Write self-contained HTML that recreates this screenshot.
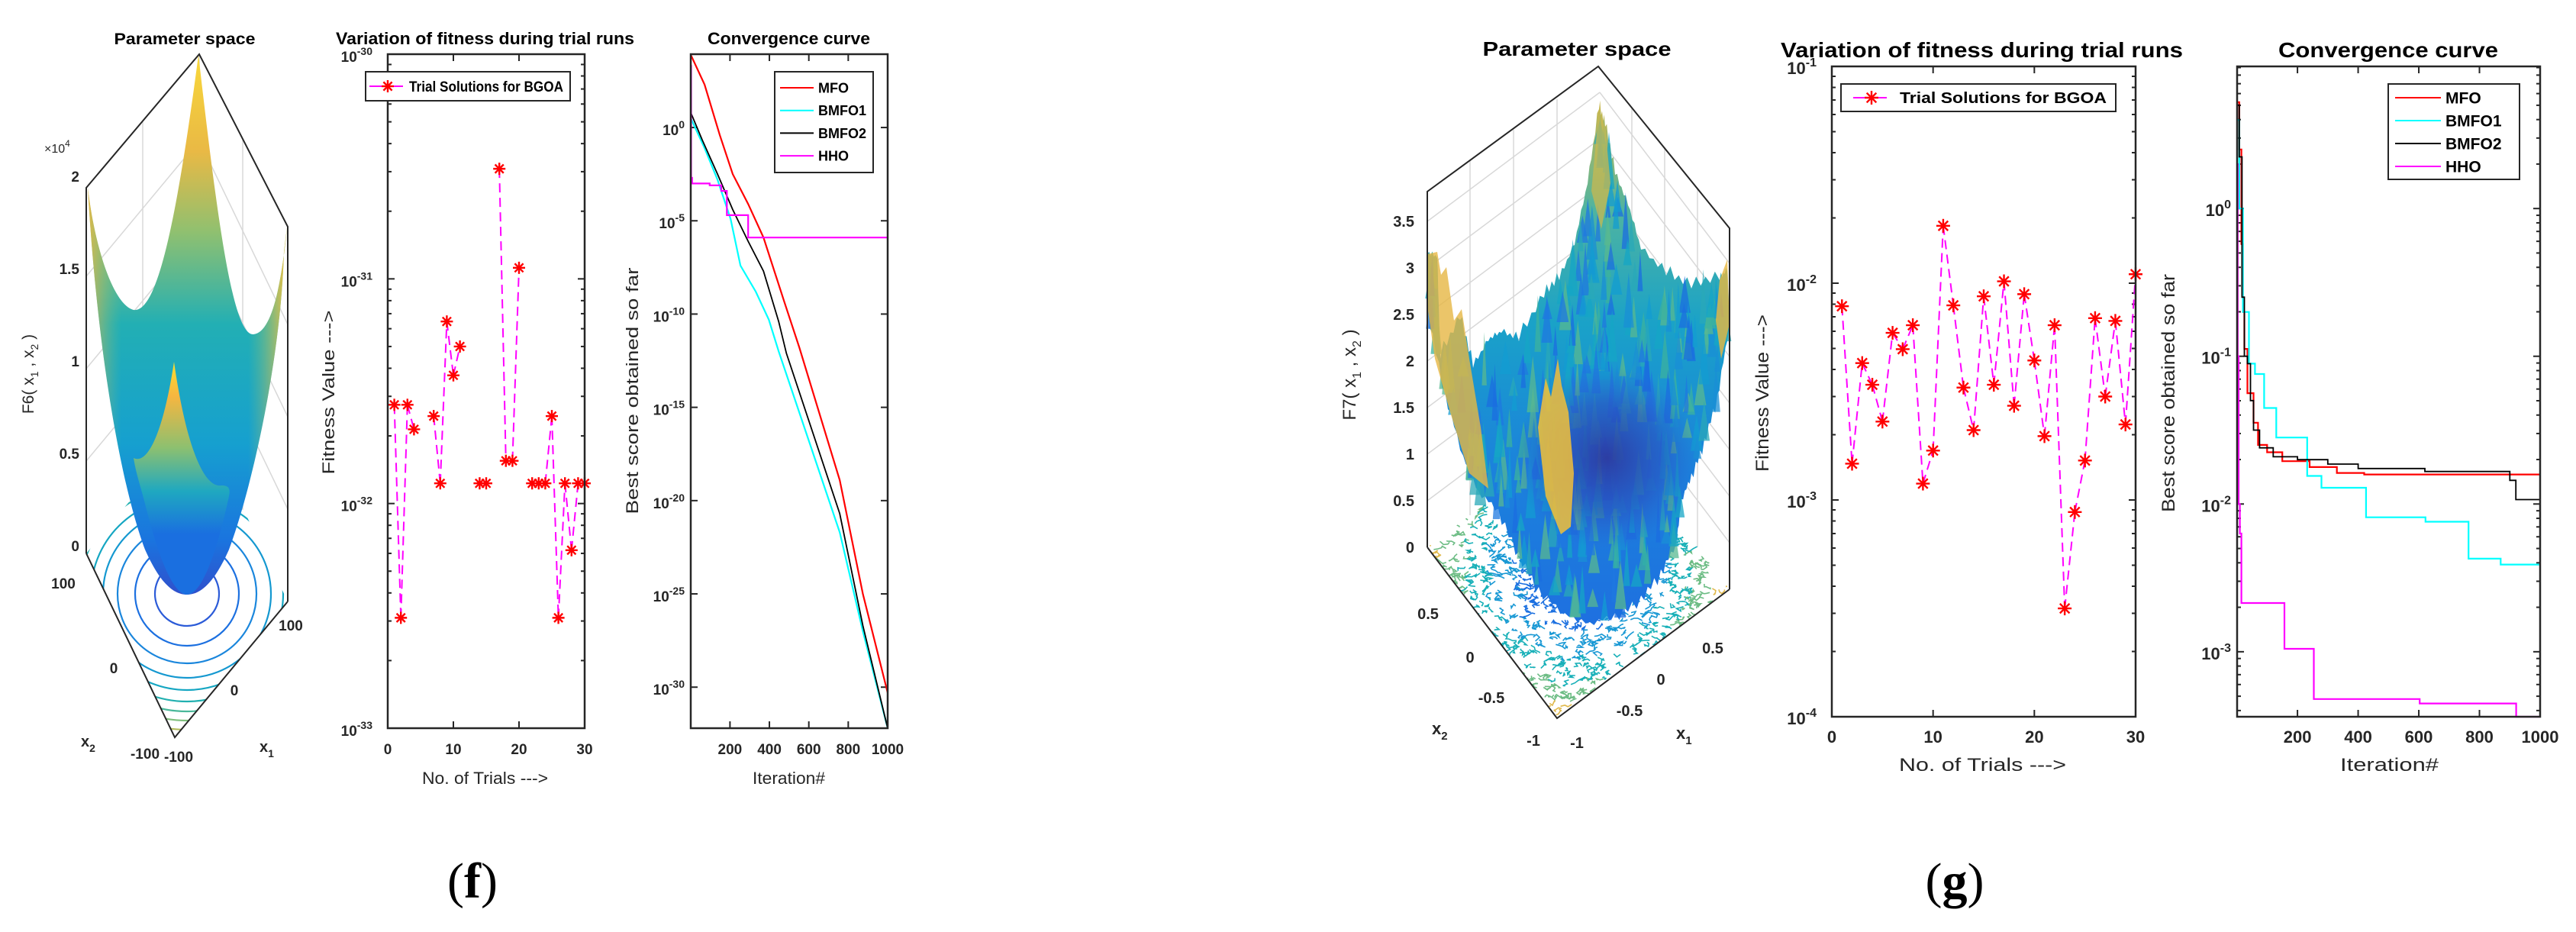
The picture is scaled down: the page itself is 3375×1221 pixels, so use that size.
<!DOCTYPE html>
<html><head><meta charset="utf-8"><title>Parameter space, fitness variation and convergence curves for F6 and F7</title>
<style>
html,body{margin:0;padding:0;background:#fff;}
svg{display:block;font-family:"Liberation Sans",Arial,sans-serif;}
</style></head>
<body>
<svg id="fig" xmlns="http://www.w3.org/2000/svg" width="3375" height="1221" viewBox="0 0 3375 1221">
<defs>
  <linearGradient id="gF6" x1="0" y1="71" x2="0" y2="779" gradientUnits="userSpaceOnUse">
    <stop offset="0" stop-color="#f9d83a"/><stop offset="0.18" stop-color="#e9b945"/>
    <stop offset="0.33" stop-color="#8fc070"/><stop offset="0.5" stop-color="#22afb4"/>
    <stop offset="0.72" stop-color="#16a0cf"/><stop offset="0.9" stop-color="#1a74df"/>
    <stop offset="1" stop-color="#3050cc"/>
  </linearGradient>
  <linearGradient id="gF6side" x1="112" y1="0" x2="372" y2="0" gradientUnits="userSpaceOnUse">
    <stop offset="0" stop-color="#f2b640" stop-opacity="0.85"/><stop offset="0.18" stop-color="#80c07a" stop-opacity="0"/>
    <stop offset="0.82" stop-color="#80c07a" stop-opacity="0"/><stop offset="1" stop-color="#f2c040" stop-opacity="0.85"/>
  </linearGradient>
  <linearGradient id="gF6lobe" x1="0" y1="474" x2="0" y2="700" gradientUnits="userSpaceOnUse">
    <stop offset="0" stop-color="#f9e030"/><stop offset="0.2" stop-color="#f6b640"/>
    <stop offset="0.5" stop-color="#8cc070"/><stop offset="0.75" stop-color="#1fa8c0"/>
    <stop offset="1" stop-color="#1a6fe0"/>
  </linearGradient>
  <linearGradient id="gF7" x1="0" y1="140" x2="0" y2="815" gradientUnits="userSpaceOnUse">
    <stop offset="0" stop-color="#c8b850"/><stop offset="0.2" stop-color="#4fb4a0"/>
    <stop offset="0.42" stop-color="#1aa2c8"/><stop offset="0.7" stop-color="#1b82dc"/>
    <stop offset="1" stop-color="#1e70e0"/>
  </linearGradient>
  <radialGradient id="gF7dark" cx="2105" cy="600" r="120" gradientUnits="userSpaceOnUse">
    <stop offset="0" stop-color="#2d3aa0" stop-opacity="0.95"/><stop offset="0.6" stop-color="#2a4fc0" stop-opacity="0.6"/>
    <stop offset="1" stop-color="#2a60d0" stop-opacity="0"/>
  </radialGradient>
  <clipPath id="clipFloorF"><polygon points="113,725 229,966 377,788 261,547"/></clipPath>
  <clipPath id="clipFloorG"><polygon points="1870,717 2040,941 2266,772 2096,548"/></clipPath>
</defs>

<!-- ===== Panel (f) 3D parameter space ===== -->
<g>
  <text x="242" y="58" font-size="21" font-weight="bold" text-anchor="middle" textLength="185" lengthAdjust="spacingAndGlyphs">Parameter space</text>
  <g stroke="#d8d8d8" stroke-width="1.5">
    <line x1="113" y1="604" x2="261" y2="426"/><line x1="113" y1="483" x2="261" y2="305"/><line x1="113" y1="362" x2="261" y2="184"/>
    <line x1="261" y1="426" x2="377" y2="667"/><line x1="261" y1="305" x2="377" y2="546"/><line x1="261" y1="184" x2="377" y2="425"/>
    <line x1="187" y1="160" x2="187" y2="636"/><line x1="318" y1="183" x2="318" y2="668"/><line x1="261" y1="71" x2="261" y2="547"/>
  </g>
  <g clip-path="url(#clipFloorF)" fill="none" stroke-width="2.2">
    <circle cx="245" cy="778" r="42" stroke="#2b5bd8"/><circle cx="245" cy="778" r="68" stroke="#1c70e0"/>
    <circle cx="245" cy="778" r="91" stroke="#1a86dc"/><circle cx="245" cy="778" r="110" stroke="#1498d0"/>
    <circle cx="245" cy="778" r="126" stroke="#15a6c2"/><circle cx="245" cy="778" r="141" stroke="#22b0b0"/>
    <circle cx="245" cy="778" r="154" stroke="#4ab89a"/><circle cx="245" cy="778" r="166" stroke="#7fbf7c"/>
    <circle cx="245" cy="778" r="178" stroke="#b4bc5c"/><circle cx="245" cy="778" r="189" stroke="#e2b84a"/>
    <circle cx="245" cy="778" r="199" stroke="#f5c83a"/><circle cx="245" cy="778" r="209" stroke="#f8e030"/>
  </g>
  <path d="M115,246 C125,330 150,400 175,406 C205,410 230,300 260,72 C285,290 305,440 332,438 C355,436 368,380 376,298 L372,330 C368,470 330,640 300,720 C280,765 262,779 245,779 C228,779 210,765 190,720 C160,640 128,470 115,246 Z" fill="url(#gF6)"/>
  <path d="M115,246 C125,330 150,400 175,406 C205,410 230,300 260,72 C285,290 305,440 332,438 C355,436 368,380 376,298 L372,330 C368,470 330,640 300,720 C280,765 262,779 245,779 C228,779 210,765 190,720 C160,640 128,470 115,246 Z" fill="url(#gF6side)"/>
  <path d="M175,600 C195,610 215,560 228,474 C240,560 262,640 290,636 C300,636 302,640 300,650 C285,720 265,779 245,779 C225,779 205,720 190,660 C185,640 178,620 175,600 Z" fill="url(#gF6lobe)"/>
  <g stroke="#262626" stroke-width="2" fill="none">
    <polyline points="113,725 113,246 261,71 377,297 377,788"/>
    <polyline points="113,725 229,966 377,788"/>
  </g>
  <g font-size="19" font-weight="bold" fill="#262626" text-anchor="end">
    <text x="104" y="722">0</text><text x="104" y="601">0.5</text><text x="104" y="480">1</text><text x="104" y="359">1.5</text><text x="104" y="238">2</text>
  </g>
  <text x="58" y="200" font-size="16" fill="#262626">×10<tspan font-size="12" dy="-8">4</tspan></text>
  <text transform="translate(44,490) rotate(-90)" font-size="21" fill="#262626" text-anchor="middle">F6( x<tspan font-size="14" dy="6">1</tspan><tspan dy="-6"> , x</tspan><tspan font-size="14" dy="6">2</tspan><tspan dy="-6"> )</tspan></text>
  <g font-size="19" font-weight="bold" fill="#262626" text-anchor="middle">
    <text x="83" y="771">100</text><text x="149" y="882">0</text><text x="190" y="994">-100</text><text x="234" y="998">-100</text>
    <text x="381" y="826">100</text><text x="307" y="911">0</text>
  </g>
  <text x="106" y="978" font-size="20" font-weight="bold" fill="#262626">x<tspan font-size="14" dy="7">2</tspan></text>
  <text x="340" y="985" font-size="20" font-weight="bold" fill="#262626">x<tspan font-size="14" dy="7">1</tspan></text>
</g>

<!-- ===== Panel (g) 3D parameter space ===== -->
<g>
  <text x="2066" y="73" font-size="26" font-weight="bold" text-anchor="middle" textLength="247" lengthAdjust="spacingAndGlyphs">Parameter space</text>
  <g id="g3dgrid" stroke="#d8d8d8" stroke-width="1.5"></g>
  <g id="g3dfloor" clip-path="url(#clipFloorG)"></g>
  <g id="g3dsurf"></g>
  <g stroke="#262626" stroke-width="2" fill="none">
    <polyline points="1870,717 1870,251 2094,87 2266,299 2266,772"/>
    <polyline points="1870,717 2040,941 2266,772"/>
  </g>
  <g font-size="20" font-weight="bold" fill="#262626" text-anchor="end">
    <text x="1853" y="724">0</text><text x="1853" y="663">0.5</text><text x="1853" y="602">1</text><text x="1853" y="541">1.5</text>
    <text x="1853" y="480">2</text><text x="1853" y="419">2.5</text><text x="1853" y="358">3</text><text x="1853" y="297">3.5</text>
  </g>
  <text transform="translate(1776,491) rotate(-90)" font-size="24" fill="#262626" text-anchor="middle">F7( x<tspan font-size="16" dy="7">1</tspan><tspan dy="-7"> , x</tspan><tspan font-size="16" dy="7">2</tspan><tspan dy="-7"> )</tspan></text>
  <g font-size="20" font-weight="bold" fill="#262626" text-anchor="middle">
    <text x="1871" y="811">0.5</text><text x="1926" y="868">0</text><text x="1954" y="921">-0.5</text><text x="2009" y="977">-1</text>
    <text x="2066" y="980">-1</text><text x="2135" y="938">-0.5</text><text x="2176" y="897">0</text><text x="2244" y="856">0.5</text>
  </g>
  <text x="1876" y="962" font-size="22" font-weight="bold" fill="#262626">x<tspan font-size="15" dy="7">2</tspan></text>
  <text x="2196" y="968" font-size="22" font-weight="bold" fill="#262626">x<tspan font-size="15" dy="7">1</tspan></text>
</g>

<g id="charts"></g>

<text x="619" y="1176" font-family="'Liberation Serif',serif" font-size="66" text-anchor="middle">(<tspan font-weight="bold">f</tspan>)</text>
<text x="2561" y="1176" font-family="'Liberation Serif',serif" font-size="66" text-anchor="middle">(<tspan font-weight="bold">g</tspan>)</text>
</svg>

<script>
// ---------------- DATA ----------------
// Panel (f): fitness per trial (null = not drawn)
const trialsF = [1,2,3,4,5,6,7,8,9,10,11,12,13,14,15,16,17,18,19,20,21,22,23,24,25,26,27,28,29,30];
const fitnessF = [2.75e-32,3.1e-33,2.75e-32,2.14e-32,null,null,2.45e-32,1.23e-32,6.46e-32,3.72e-32,5.0e-32,null,null,1.23e-32,1.23e-32,null,3.09e-31,1.55e-32,1.55e-32,1.12e-31,null,1.23e-32,1.23e-32,1.23e-32,2.45e-32,3.1e-33,1.23e-32,6.2e-33,1.23e-32,1.23e-32];
const fitTicksF = [-30,-31,-32,-33];
const trialTickLabels = [0,10,20,30];
// Panel (f): convergence (log10 of best score)
const mfoItF = [1,71,148,214,292,370,474,552,757,874,1000];
const mfoLogF = [3.9,2.3,-0.4,-2.5,-4.1,-5.9,-9.3,-11.8,-18.9,-25,-30.3];
const bmfo1ItF = [1,71,137,203,253,331,397,447,757,874,1000];
const bmfo1LogF = [0.5,-1.1,-2.8,-4.9,-7.4,-8.8,-10.3,-12,-21.7,-27,-32.4];
const bmfo2ItF = [1,59,137,214,292,370,447,486,757,874,1000];
const bmfo2LogF = [0.8,-0.66,-2.5,-4.4,-6.1,-7.7,-10.4,-12.1,-20.7,-26.7,-32.2];
const hhoItF = [1,3,8,97,156,184,292];
const hhoLogF = [3.3,-2.7,-3.0,-3.1,-3.4,-4.7,-5.9];
const convTicksF = [0,-5,-10,-15,-20,-25,-30];
const iterTickLabels = [200,400,600,800,1000];
// Panel (g): fitness per trial
const trialsG = [1,2,3,4,5,6,7,8,9,10,11,12,13,14,15,16,17,18,19,20,21,22,23,24,25,26,27,28,29,30];
const fitnessG = [0.00783,0.00147,0.00428,0.0034,0.0023,0.0059,0.00496,0.0064,0.00119,0.00169,0.0184,0.0079,0.0033,0.0021,0.0087,0.0034,0.0102,0.00272,0.0089,0.0044,0.00197,0.0064,0.000316,0.00088,0.00152,0.0069,0.0030,0.0067,0.00223,0.0110];
const fitTicksG = [-1,-2,-3,-4];
// Panel (g): convergence stairs (log10 of best score)
const mfoItG = [1,8,15,20,25,35,55,70,100,150,240,330,420];
const mfoLogG = [0.72,0.4,-0.24,-0.7,-0.95,-1.25,-1.45,-1.6,-1.65,-1.71,-1.75,-1.79,-1.80];
const bmfo1ItG = [1,8,20,40,60,90,130,232,279,426,622,764,870];
const bmfo1LogG = [0.6,0,-0.7,-1.05,-1.12,-1.35,-1.55,-1.81,-1.89,-2.09,-2.12,-2.37,-2.41];
const bmfo2ItG = [1,8,17,25,35,45,55,75,120,200,300,400,620,900,920];
const bmfo2LogG = [0.7,0.35,-0.6,-1.0,-1.05,-1.3,-1.5,-1.62,-1.68,-1.7,-1.73,-1.76,-1.78,-1.84,-1.97];
const hhoItG = [1,3,6,10,15,157,254,603,921];
const hhoLogG = [0.3,-1.0,-2.0,-2.2,-2.67,-2.98,-3.32,-3.35,-3.48];
const convTicksG = [0,-1,-2,-3];
const legendNames = ['MFO','BMFO1','BMFO2','HHO'];

// ---------------- HELPERS ----------------
const NS = 'http://www.w3.org/2000/svg';
const root = document.getElementById('charts');
function mk(tag, parent, attrs) {
  const e = document.createElementNS(NS, tag);
  for (const k in attrs) e.setAttribute(k, attrs[k]);
  parent.appendChild(e);
  return e;
}
function pow10Label(parent, xRight, y, exp, size, name) {
  const t = mk('text', parent, {x: xRight, y: y, 'font-size': size, 'font-weight': 'bold', fill: '#262626', 'text-anchor': 'end'});
  
  
  const a = mk('tspan', t, {});
  a.textContent = '10';
  const b = mk('tspan', t, {'font-size': Math.round(size * 0.72), dy: -Math.round(size * 0.45)});
  b.textContent = String(exp);
  return t;
}
function star(parent, x, y, r, name) {
  const g = mk('g', parent, {stroke: '#ff0000', 'stroke-width': 2.4});
  
  
  mk('line', g, {x1: x - r, y1: y, x2: x + r, y2: y});
  mk('line', g, {x1: x, y1: y - r, x2: x, y2: y + r});
  mk('line', g, {x1: x - r * 0.7, y1: y - r * 0.7, x2: x + r * 0.7, y2: y + r * 0.7});
  mk('line', g, {x1: x - r * 0.7, y1: y + r * 0.7, x2: x + r * 0.7, y2: y - r * 0.7});
}

// Fitness panel
function fitnessPanel(p) {
  const g = mk('g', root, {});
  
  
  const xS = t => p.x0 + t / 30 * (p.x1 - p.x0);
  const yS = v => p.y0 + (p.dTop - Math.log10(v)) / (p.dTop - p.dBot) * (p.y1 - p.y0);
  const title = mk('text', g, {x: (p.tx0 + p.tx1) / 2, y: p.ty, 'font-size': p.tfs, 'font-weight': 'bold', 'text-anchor': 'middle', textLength: p.tx1 - p.tx0, lengthAdjust: 'spacingAndGlyphs'});
  
  
  title.textContent = 'Variation of fitness during trial runs';
  const tk = mk('g', g, {stroke: '#262626', 'stroke-width': 2});
  
  
  for (let d = p.dBot; d < p.dTop; d++) {
    for (let m = 1; m < 10; m++) {
      const y = yS(m * Math.pow(10, d));
      const L = m === 1 ? 9 : 5;
      mk('line', tk, {x1: p.x0, y1: y, x2: p.x0 + L, y2: y});
      mk('line', tk, {x1: p.x1, y1: y, x2: p.x1 - L, y2: y});
    }
  }
  p.yTicks.forEach(d => {
    pow10Label(g, p.x0 - 20, yS(Math.pow(10, d)) + 10, d, p.fs, p.id + '-fitness-y-tick-label');
  });
  trialTickLabels.forEach(t => {
    mk('line', tk, {x1: xS(t), y1: p.y1, x2: xS(t), y2: p.y1 - 9});
    mk('line', tk, {x1: xS(t), y1: p.y0, x2: xS(t), y2: p.y0 + 9});
    const tl = mk('text', g, {x: xS(t), y: p.xly, 'font-size': p.fs, 'font-weight': 'bold', fill: '#262626', 'text-anchor': 'middle'});
    
    
    tl.textContent = t;
  });
  const ser = mk('g', g, {});
  
  
  for (let i = 0; i < p.vals.length - 1; i++) {
    const a = p.vals[i], b = p.vals[i + 1];
    if (a == null || b == null) continue;
    const seg = mk('line', ser, {x1: xS(p.trials[i]), y1: yS(a), x2: xS(p.trials[i + 1]), y2: yS(b), stroke: '#ff00ff', 'stroke-width': 2, 'stroke-dasharray': '12,7'});
    
    
  }
  p.vals.forEach((v, i) => {
    if (v == null) return;
    star(ser, xS(p.trials[i]), yS(v), p.sr, 'trial-point');
  });
  const box = mk('rect', g, {x: p.x0, y: p.y0, width: p.x1 - p.x0, height: p.y1 - p.y0, fill: 'none', stroke: '#262626', 'stroke-width': 2.5});
  
  
  const lg = mk('g', g, {});
  
  
  mk('rect', lg, {x: p.lx0, y: p.ly0, width: p.lx1 - p.lx0, height: p.ly1 - p.ly0, fill: '#fff', stroke: '#262626', 'stroke-width': 2});
  const cy = (p.ly0 + p.ly1) / 2;
  mk('line', lg, {x1: p.lmx - 24, y1: cy, x2: p.lmx + 20, y2: cy, stroke: '#ff00ff', 'stroke-width': 2});
  star(lg, p.lmx, cy, p.sr, 'legend-marker');
  const lt = mk('text', lg, {x: p.ltx0, y: cy + 7, 'font-size': p.lfs, 'font-weight': 'bold', textLength: p.ltx1 - p.ltx0, lengthAdjust: 'spacingAndGlyphs'});
  
  
  lt.textContent = 'Trial Solutions for BGOA';
  const yl = mk('text', g, {transform: 'translate(' + p.ylx + ',' + p.ylcy + ') rotate(-90)', 'font-size': p.afs, fill: '#262626', 'text-anchor': 'middle', textLength: p.ylLen, lengthAdjust: 'spacingAndGlyphs'});
  
  
  yl.textContent = 'Fitness Value --->';
  const xl = mk('text', g, {x: (p.xlx0 + p.xlx1) / 2, y: p.xlty, 'font-size': p.afs, fill: '#262626', 'text-anchor': 'middle', textLength: p.xlx1 - p.xlx0, lengthAdjust: 'spacingAndGlyphs'});
  
  
  xl.textContent = 'No. of Trials --->';
}

// Convergence panel
function convPanel(p) {
  const g = mk('g', root, {});
  
  
  const xS = it => p.x0 + (it - 1) / 999 * (p.x1 - p.x0);
  const yS = l => p.y0 + (p.dTop - l) / (p.dTop - p.dBot) * (p.y1 - p.y0);
  const title = mk('text', g, {x: (p.tx0 + p.tx1) / 2, y: p.ty, 'font-size': p.tfs, 'font-weight': 'bold', 'text-anchor': 'middle', textLength: p.tx1 - p.tx0, lengthAdjust: 'spacingAndGlyphs'});
  
  
  title.textContent = 'Convergence curve';
  const tk = mk('g', g, {stroke: '#262626', 'stroke-width': 2});
  
  
  if (p.minor) {
    for (let d = Math.floor(p.dBot); d < p.dTop; d++) {
      for (let m = 2; m < 10; m++) {
        const l = d + Math.log10(m);
        if (l < p.dBot || l > p.dTop) continue;
        mk('line', tk, {x1: p.x0, y1: yS(l), x2: p.x0 + 5, y2: yS(l)});
        mk('line', tk, {x1: p.x1, y1: yS(l), x2: p.x1 - 5, y2: yS(l)});
      }
    }
  }
  p.yTicks.forEach(d => {
    mk('line', tk, {x1: p.x0, y1: yS(d), x2: p.x0 + 9, y2: yS(d)});
    mk('line', tk, {x1: p.x1, y1: yS(d), x2: p.x1 - 9, y2: yS(d)});
    pow10Label(g, p.x0 - 8, yS(d) + 10, d, p.fs, p.id + '-convergence-y-tick-label');
  });
  iterTickLabels.forEach(it => {
    mk('line', tk, {x1: xS(it), y1: p.y1, x2: xS(it), y2: p.y1 - 9});
    mk('line', tk, {x1: xS(it), y1: p.y0, x2: xS(it), y2: p.y0 + 9});
    const tl = mk('text', g, {x: xS(it), y: p.xly, 'font-size': p.fs, 'font-weight': 'bold', fill: '#262626', 'text-anchor': 'middle'});
    
    
    tl.textContent = it;
  });
  const colors = ['#ff0000', '#00ffff', '#000000', '#ff00ff'];
  const sg = mk('g', g, {fill: 'none', 'stroke-width': 2});
  
  
  p.series.forEach((s, k) => {
    let pts = [];
    if (s.stairs) {
      for (let i = 0; i < s.it.length; i++) {
        if (i > 0) pts.push([xS(s.it[i]), yS(s.v[i - 1])]);
        pts.push([xS(s.it[i]), yS(s.v[i])]);
      }
      pts.push([xS(1000), yS(s.v[s.v.length - 1])]);
    } else {
      for (let i = 0; i < s.it.length; i++) pts.push([xS(s.it[i]), yS(s.v[i])]);
    }
    pts = pts.map(q => [q[0], Math.min(Math.max(q[1], p.y0), p.y1)]);
    const pl = mk('polyline', sg, {points: pts.map(q => q[0].toFixed(1) + ',' + q[1].toFixed(1)).join(' '), stroke: colors[k], 'stroke-width': k === 2 ? 1.8 : 2.2});
    
    
  });
  const box = mk('rect', g, {x: p.x0, y: p.y0, width: p.x1 - p.x0, height: p.y1 - p.y0, fill: 'none', stroke: '#262626', 'stroke-width': 2.5});
  
  
  const lg = mk('g', g, {});
  
  
  mk('rect', lg, {x: p.lx0, y: p.ly0, width: p.lx1 - p.lx0, height: p.ly1 - p.ly0, fill: '#fff', stroke: '#262626', 'stroke-width': 2});
  legendNames.forEach((n, k) => {
    const y = p.ly0 + p.lpad + k * p.lstep;
    mk('line', lg, {x1: p.llx0, y1: y, x2: p.llx1, y2: y, stroke: colors[k], 'stroke-width': 2});
    const t = mk('text', lg, {x: p.llx1 + 6, y: y + p.lfs * 0.36, 'font-size': p.lfs, 'font-weight': 'bold'});
    
    
    t.textContent = n;
  });
  const yl = mk('text', g, {transform: 'translate(' + p.ylx + ',' + p.ylcy + ') rotate(-90)', 'font-size': p.afs, fill: '#262626', 'text-anchor': 'middle', textLength: p.ylLen, lengthAdjust: 'spacingAndGlyphs'});
  
  
  yl.textContent = 'Best score obtained so far';
  const xl = mk('text', g, {x: (p.xlx0 + p.xlx1) / 2, y: p.xlty, 'font-size': p.afs, fill: '#262626', 'text-anchor': 'middle', textLength: p.xlx1 - p.xlx0, lengthAdjust: 'spacingAndGlyphs'});
  
  
  xl.textContent = 'Iteration#';
}

fitnessPanel({id: 'f6', x0: 508, x1: 766, y0: 71, y1: 954, dTop: -30, dBot: -33, trials: trialsF, vals: fitnessF, yTicks: fitTicksF,
  tx0: 440, tx1: 831, ty: 58, tfs: 22, fs: 19, xly: 988, sr: 8,
  lx0: 479, ly0: 94, lx1: 747, ly1: 132, lmx: 508, ltx0: 536, ltx1: 738, lfs: 19,
  ylx: 438, ylcy: 514, ylLen: 215, afs: 22, xlx0: 553, xlx1: 718, xlty: 1027});
convPanel({id: 'f6', x0: 905, x1: 1163, y0: 71, y1: 954, dTop: 3.93, dBot: -32.2, minor: false, yTicks: convTicksF,
  series: [{it: mfoItF, v: mfoLogF}, {it: bmfo1ItF, v: bmfo1LogF}, {it: bmfo2ItF, v: bmfo2LogF}, {it: hhoItF, v: hhoLogF, stairs: true}],
  tx0: 927, tx1: 1140, ty: 58, tfs: 22, fs: 19, xly: 988,
  lx0: 1015, ly0: 94, lx1: 1144, ly1: 226, lpad: 21, lstep: 29.7, llx0: 1022, llx1: 1066, lfs: 18,
  ylx: 836, ylcy: 512, ylLen: 323, afs: 22, xlx0: 986, xlx1: 1081, xlty: 1027});
fitnessPanel({id: 'f7', x0: 2400, x1: 2798, y0: 87, y1: 939, dTop: -1, dBot: -4, trials: trialsG, vals: fitnessG, yTicks: fitTicksG,
  tx0: 2333, tx1: 2860, ty: 75, tfs: 28, fs: 22, xly: 973, sr: 9,
  lx0: 2412, ly0: 110, lx1: 2772, ly1: 146, lmx: 2452, ltx0: 2489, ltx1: 2760, lfs: 20,
  ylx: 2317, ylcy: 515, ylLen: 206, afs: 24, xlx0: 2488, xlx1: 2707, xlty: 1010});
convPanel({id: 'f7', x0: 2931, x1: 3328, y0: 87, y1: 939, dTop: 0.962, dBot: -3.44, minor: true, yTicks: convTicksG,
  series: [{it: mfoItG, v: mfoLogG, stairs: true}, {it: bmfo1ItG, v: bmfo1LogG, stairs: true}, {it: bmfo2ItG, v: bmfo2LogG, stairs: true}, {it: hhoItG, v: hhoLogG, stairs: true}],
  tx0: 2985, tx1: 3273, ty: 75, tfs: 28, fs: 22, xly: 973,
  lx0: 3129, ly0: 110, lx1: 3301, ly1: 235, lpad: 18, lstep: 30, llx0: 3138, llx1: 3198, lfs: 21,
  ylx: 2849, ylcy: 515, ylLen: 312, afs: 24, xlx0: 3066, xlx1: 3195, xlty: 1010});

// ---------------- Decorative 3D F7 surface (static geometry) ----------------
(function () {
  const grid = document.getElementById('g3dgrid');
  for (let k = 1; k <= 7; k++) {
    const dz = k * 61;
    const a = mk('line', grid, {x1: 1870, y1: 717 - dz, x2: 2096, y2: 548 - dz});
    
    
    const b = mk('line', grid, {x1: 2096, y1: 548 - dz, x2: 2266, y2: 772 - dz});
    
    
  }
  [1926, 1983, 2040].forEach((x, i) => {
    const l = mk('line', grid, {x1: x, y1: 210 - i * 40, x2: x, y2: 675 - i * 42});
    
    
  });
  [2138, 2181, 2224].forEach((x, i) => {
    const l = mk('line', grid, {x1: x, y1: 140 + i * 53, x2: x, y2: 605 + i * 56});
    
    
  });
  const fl = document.getElementById('g3dfloor');
  let s = 12345;
  const rnd = () => { s = (s * 1103515245 + 12345) % 2147483648; return s / 2147483648; };
  for (let i = 0; i < 900; i++) {
    const u = rnd(), v = rnd();
    const px = 1870 + (2040 - 1870) * u + (2096 - 1870) * v;
    const py = 717 + (941 - 717) * u + (548 - 717) * v;
    const d = Math.hypot((u - 0.5) * 2, (v - 0.5) * 2);
    const col = d < 0.6 ? '#1a6fe0' : d < 0.85 ? '#1898d4' : d < 1.05 ? '#18b0b8' : d < 1.25 ? '#6cbc84' : '#e0b84a';
    let dpath = 'M' + px.toFixed(1) + ',' + py.toFixed(1);
    let qx = px, qy = py;
    for (let j = 0; j < 4; j++) { qx += (rnd() - 0.5) * 12; qy += (rnd() - 0.5) * 8; dpath += ' L' + qx.toFixed(1) + ',' + qy.toFixed(1); }
    const p = mk('path', fl, {d: dpath, fill: 'none', stroke: col, 'stroke-width': 1.6});
    
    
  }
  const outline = [[1870,333],[1883,338],[1887,470],[1913,419],[1930,482],[1950,447],[1967,436],[1990,447],[2023,390],[2043,367],[2063,321],[2080,241],[2095,143],[2103,166],[2116,229],[2133,269],[2150,327],[2183,361],[2216,378],[2253,367],[2263,355],[2266,424],[2250,516],[2233,574],[2216,620],[2203,654],[2196,711],[2176,746],[2150,780],[2116,803],[2083,815],[2050,803],[2016,769],[1990,723],[1963,665],[1937,643],[1917,597],[1893,511],[1870,401]];
  const amps = [9,4,12,6,14,3,10,7,13,5,8,11,4,15,6];
  let d = '';
  let n = 0;
  for (let i = 0; i < outline.length; i++) {
    const a = outline[i], b = outline[(i + 1) % outline.length];
    const steps = 6;
    for (let k = 0; k < steps; k++) {
      const t = k / steps;
      let x = a[0] + (b[0] - a[0]) * t, y = a[1] + (b[1] - a[1]) * t;
      const up = i < 21 ? -1 : 1;
      if (k % 2 === 1) y += up * amps[n % amps.length];
      n++;
      d += (d ? ' L' : 'M') + x.toFixed(1) + ',' + y.toFixed(1);
    }
  }
  d += ' Z';
  const surf = document.getElementById('g3dsurf');
  const main = mk('path', surf, {d: d, fill: 'url(#gF7)'});
  
  
  // spiky texture
  const spikeCols = ['#1a8fd6', '#16a6c6', '#1f78e0', '#2aa8b8', '#3cb29e', '#1b6ee0', '#139cd2', '#58b890'];
  for (let i = 0; i < 700; i++) {
    const x = 1872 + rnd() * 392, y = 150 + rnd() * 660;
    let inside = true;
    try { inside = main.isPointInFill(new DOMPoint(x, y)) && main.isPointInFill(new DOMPoint(x, y - 30)); } catch (e) { inside = false; }
    if (!inside) continue;
    const h = 18 + rnd() * 40, w = 3 + rnd() * 5;
    const c = spikeCols[Math.floor(rnd() * spikeCols.length)];
    const sp = mk('polygon', surf, {points: (x - w) + ',' + (y + h * 0.3) + ' ' + x + ',' + (y - h) + ' ' + (x + w) + ',' + (y + h * 0.3), fill: c, opacity: 0.75});
    
    
  }
  const dark = mk('path', surf, {d: d, fill: 'url(#gF7dark)'});
  
  
  const ridgeL = mk('path', surf, {d: 'M1870,333 L1883,330 L1888,360 L1895,350 L1905,420 L1915,405 L1925,470 L1940,560 L1950,640 L1925,620 L1900,540 L1880,470 L1870,401 Z', fill: '#e6b744', opacity: 0.8});
  
  
  const ridgeC = mk('path', surf, {d: 'M2015,560 L2025,495 L2032,520 L2041,470 L2046,505 L2055,540 L2062,620 L2058,690 L2045,700 L2025,650 Z', fill: '#f2c038', opacity: 0.85});
  
  
  const ridgeR = mk('path', surf, {d: 'M2253,367 L2263,340 L2266,424 L2255,470 L2248,420 Z', fill: '#e8b840', opacity: 0.8});
  
  
  const peak = mk('path', surf, {d: 'M2085,250 L2095,143 L2103,166 L2110,240 L2098,300 Z', fill: '#c8b850', opacity: 0.75});
  
  
})();
</script>
</body></html>
